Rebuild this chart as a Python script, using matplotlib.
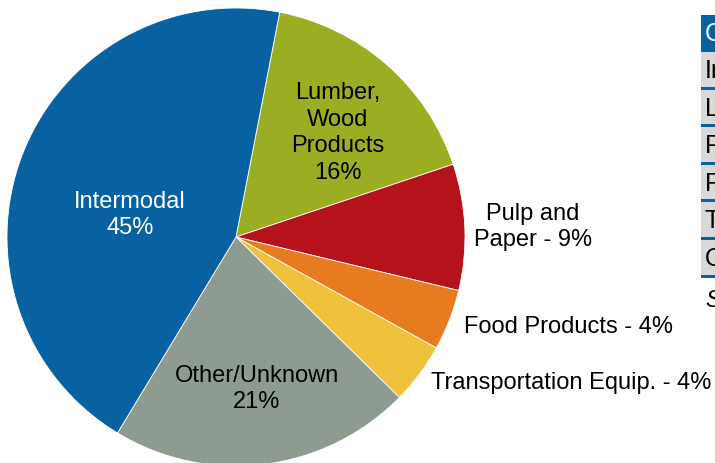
import matplotlib.pyplot as plt
from matplotlib.patches import Rectangle

plt.rcParams['font.family'] = ['Liberation Sans', 'DejaVu Sans']

# slices, clockwise from the top
categories = ['Lumber, Wood Products', 'Pulp and Paper', 'Food Products',
              'Transportation Equip.', 'Other/Unknown', 'Intermodal']
shares = [16.8, 8.9, 4.3, 4.3, 21.3, 44.4]
pct_labels = ['16%', '9%', '4%', '4%', '21%', '45%']
colors = ['#9bad22', '#b5121b', '#e77b1f', '#f0c13c', '#8d9b90', '#0862a2']

# table at the right (cut off by the figure edge, as in the source)
table_header = 'Commodity'
table_rows = ['Intermodal', 'Lumber, Wood Products', 'Pulp and Paper',
              'Food Products', 'Transportation Equip.', 'Other/Unknown']
source_note = 'Source: Carload Waybill Sample'

W, H = 715, 463
fig = plt.figure(figsize=(W / 100, H / 100), dpi=100)
ax = fig.add_axes([0, 0, 1, 1])

cx, cy, r = 236, 237, 229  # pie centre and radius in pixels
wedges, _ = ax.pie(shares, colors=colors, startangle=79, counterclock=False,
                   radius=1, wedgeprops=dict(edgecolor='white', linewidth=0.6))
ax.set_aspect('auto')
ax.set_xlim(-cx / r, (W - cx) / r)
ax.set_ylim(-(H - cy) / r, cy / r)
ax.axis('off')


def px(x, y):
    # pixel -> data coords
    return (x - cx) / r, (cy - y) / r


fs = 17
ls = 1.28
inside = {
    'Intermodal': ((130, 215), 'Intermodal\n' + pct_labels[5], 'white'),
    'Lumber, Wood Products': ((338, 133), 'Lumber,\nWood\nProducts\n' + pct_labels[0], 'black'),
    'Other/Unknown': ((257, 389), 'Other/Unknown\n' + pct_labels[4], 'black'),
}
for name, (pos, txt, col) in inside.items():
    ax.text(*px(*pos), txt, ha='center', va='center', color=col,
            fontsize=fs, linespacing=ls)

outside = {
    'Pulp and Paper': ((533, 227), 'Pulp and\nPaper - ' + pct_labels[1], 'center'),
    'Food Products': ((464, 327), 'Food Products - ' + pct_labels[2], 'left'),
    'Transportation Equip.': ((431, 383), 'Transportation Equip. - ' + pct_labels[3], 'left'),
}
for name, (pos, txt, ha) in outside.items():
    ax.text(*px(*pos), txt, ha=ha, va='center', color='black',
            fontsize=fs, linespacing=ls)

# table drawn in pixel space
tx = 701
row_h = 37.6
top = 15


def fig_rect(x0, y0, w, h, **kw):
    fig.patches.append(Rectangle((x0 / W, 1 - (y0 + h) / H), w / W, h / H,
                                 transform=fig.transFigure, **kw))


fig_rect(tx, top, W - tx + 5, 37, facecolor='#0862a2', edgecolor='none')
fig.text((tx + 4) / W, 1 - (top + 19) / H, table_header, color='white',
         fontsize=fs + 1, va='center', ha='left')
for i, row in enumerate(table_rows):
    y0 = top + 37 + i * row_h
    fig_rect(tx, y0, W - tx + 5, row_h, facecolor='#d9d9d9', edgecolor='none')
    fig_rect(tx, y0 + row_h - 3, W - tx + 5, 3, facecolor='#0862a2', edgecolor='none')
    fig.text((tx + 4) / W, 1 - (y0 + row_h / 2) / H, row, color='black',
             fontsize=fs + 1, va='center', ha='left')
fig.text((tx + 5) / W, 1 - 301 / H, source_note, color='black', style='italic',
         fontsize=fs, va='center', ha='left')

fig.savefig('out.png', dpi=100)
